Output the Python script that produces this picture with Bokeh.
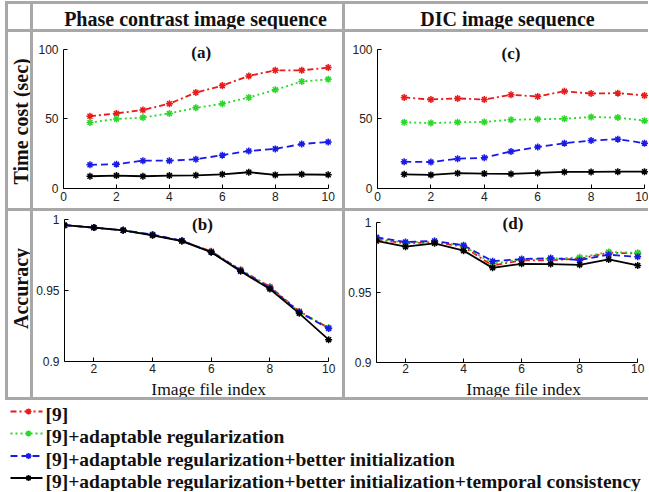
import math
from bokeh.plotting import figure
from bokeh.models import Range1d, Label, FixedTicker, CustomJSTickFormatter, Div
from bokeh.layouts import row, column
from bokeh.embed import file_html
from bokeh.resources import INLINE

# ---------------- data ----------------
index = [1, 2, 3, 4, 5, 6, 7, 8, 9, 10]
series_names = [
    "[9]",
    "[9]+adaptable regularization",
    "[9]+adaptable regularization+better initialization",
    "[9]+adaptable regularization+better initialization+temporal consistency",
]
col_titles = ["Phase contrast image sequence", "DIC image sequence"]
row_titles = ["Time cost (sec)", "Accuracy"]
panel_tags = ["(a)", "(b)", "(c)", "(d)"]
x_label = "Image file index"

time_ticks_x = [0, 2, 4, 6, 8, 10]
time_ticks_y = [0, 50, 100]
acc_ticks_x = [2, 4, 6, 8, 10]
acc_ticks_y = [0.9, 0.95, 1.0]

phase_time_r9 = [52, 54, 56.5, 61, 69, 74, 81, 85, 85, 87]
phase_time_ar = [47.5, 50, 51, 54, 58, 61, 65.5, 71, 77, 78.5]
phase_time_bi = [17, 17.5, 20, 20, 21, 24, 27, 28.5, 32, 33.5]
phase_time_tc = [8.8, 9.3, 8.8, 9.3, 9.5, 10.2, 11.7, 9.8, 10.2, 9.9]

dic_time_r9 = [65.5, 64, 64.8, 64, 67.4, 66.2, 70, 68.3, 68.6, 66.9]
dic_time_ar = [47.6, 47.1, 47.6, 47.9, 49.5, 49.8, 50.2, 51.4, 51.0, 48.8]
dic_time_bi = [19.3, 19.0, 21.4, 22.1, 26.7, 29.8, 32.6, 34.5, 35.5, 32.6]
dic_time_tc = [10.2, 9.8, 11.0, 10.7, 10.5, 11.2, 11.9, 11.9, 12.1, 12.1]

phase_acc_r9 = [0.996, 0.9943, 0.9924, 0.9890, 0.9850, 0.9776, 0.9646, 0.9526, 0.9353, 0.9236]
phase_acc_ar = [0.996, 0.9943, 0.9924, 0.9891, 0.9850, 0.9773, 0.9643, 0.9521, 0.9350, 0.9237]
phase_acc_bi = [0.996, 0.9943, 0.9924, 0.9895, 0.9850, 0.9771, 0.9641, 0.9518, 0.9348, 0.9232]
phase_acc_tc = [0.996, 0.9943, 0.9924, 0.9889, 0.9848, 0.9770, 0.9635, 0.9510, 0.9339, 0.9154]

dic_acc_r9 = [0.9880, 0.9851, 0.9860, 0.9827, 0.9693, 0.9729, 0.9731, 0.9741, 0.9784, 0.9779]
dic_acc_ar = [0.9885, 0.9856, 0.9866, 0.9832, 0.9707, 0.9736, 0.9741, 0.9751, 0.9789, 0.9784]
dic_acc_bi = [0.9894, 0.9861, 0.9868, 0.9837, 0.9724, 0.9739, 0.9746, 0.9731, 0.9770, 0.9755]
dic_acc_tc = [0.9868, 0.9827, 0.9851, 0.9799, 0.9676, 0.9705, 0.9703, 0.9698, 0.9736, 0.9693]

# ---------------- styles ----------------
COLORS = ["#e81a1a", "#2ad82a", "#1a1ae8", "#000000"]
DASHES = ["6 3 2 3", "2 3", "7 4", "solid"]
GRID = "#a8a8a8"
SERIF = "Liberation Serif"
SANS = "Liberation Sans"
TXT = "#111111"


def vline(h):
    return Div(text="", width=3, height=h, margin=0, styles={"background-color": GRID})


def hline(w):
    return Div(text="", width=w, height=3, margin=0, styles={"background-color": GRID})


def blank(w, h):
    f = figure(width=w, height=h, x_range=Range1d(0, w), y_range=Range1d(h, 0),
               output_backend="svg", toolbar_location=None, title_location=None,
               min_border=0, x_axis_type=None, y_axis_type=None)
    f.xgrid.visible = False
    f.ygrid.visible = False
    f.outline_line_color = None
    f.background_fill_color = "white"
    f.border_fill_color = "white"
    return f


def panel(w, h, xr, yr, xb, yb, mb, xticks, yticks, series, tag, tag_xy, xstand=3):
    p = figure(width=w, height=h, x_range=Range1d(*xr), y_range=Range1d(*yr),
               output_backend="svg", toolbar_location=None, title_location=None,
               min_border_left=mb[0], min_border_right=mb[1],
               min_border_top=mb[2], min_border_bottom=mb[3])
    p.xgrid.visible = False
    p.ygrid.visible = False
    p.outline_line_color = None
    p.background_fill_color = "white"
    p.border_fill_color = "white"
    for ax, ticks, bnd in ((p.xaxis[0], xticks, xb), (p.yaxis[0], yticks, yb)):
        ax.ticker = FixedTicker(ticks=ticks)
        ax.bounds = bnd
        ax.axis_line_color = "black"
        ax.axis_line_width = 1
        ax.major_tick_in = 4
        ax.major_tick_out = 0
        ax.major_tick_line_color = "black"
        ax.minor_tick_line_color = None
        ax.major_label_text_font = SANS
        ax.major_label_text_font_size = "12px"
        ax.major_label_text_color = "#222222"
    p.xaxis.major_label_standoff = xstand
    p.yaxis.major_label_standoff = 5
    p.yaxis.formatter = CustomJSTickFormatter(code="return String(Math.round(tick*100)/100);")
    for vals, c, d in zip(series, COLORS, DASHES):
        p.line(index, vals, line_color=c, line_dash=d, line_width=1.8)
        p.scatter(index, vals, marker="asterisk", size=7, line_color=c, line_width=1.5)
    p.add_layout(Label(x=tag_xy[0], y=tag_xy[1], text=tag, text_align="center",
                       text_baseline="middle", text_font=SERIF, text_font_style="bold",
                       text_font_size="17px", text_color=TXT))
    return p


def xlabel_fig(w, h, cx):
    f = blank(w, h)
    f.add_layout(Label(x=cx, y=11, text=x_label, text_align="center", text_baseline="middle",
                       text_font=SERIF, text_font_style="normal", text_font_size="17.5px",
                       text_color=TXT))
    return f


W0, W1, W2 = 22, 309, 303
H0, H1, H2, H3 = 25, 176, 186, 91
HL = 20                     # height of the x-label strip in the accuracy row
COL_W = 3 + W0 + 3 + W1 + 3 + W2
TOTAL_H = 1 + 3 + H0 + 3 + H1 + 3 + H2 + 3 + H3

# header row
h_blank = blank(W0, H0)
h1 = blank(W1, H0)
h1.add_layout(Label(x=162, y=14, text=col_titles[0], text_align="center", text_baseline="middle",
                    text_font=SERIF, text_font_style="bold", text_font_size="20px", text_color=TXT))
h2 = blank(W2, H0)
h2.add_layout(Label(x=162, y=14, text=col_titles[1], text_align="center", text_baseline="middle",
                    text_font=SERIF, text_font_style="bold", text_font_size="20px", text_color=TXT))

# row labels
r1 = blank(W0, H1)
r1.add_layout(Label(x=12, y=94.5, text=row_titles[0], angle=math.pi / 2, text_align="center",
                    text_baseline="middle", text_font=SERIF, text_font_style="bold",
                    text_font_size="20px", text_color=TXT))
r2 = blank(W0, H2)
r2.add_layout(Label(x=12, y=77, text=row_titles[1], angle=math.pi / 2, text_align="center",
                    text_baseline="middle", text_font=SERIF, text_font_style="bold",
                    text_font_size="20px", text_color=TXT))

pa = panel(W1, H1, (0, 10.2), (0, 104.3), (0, 10), (0, 100), (30, 9, 11, 19),
           time_ticks_x, time_ticks_y,
           [phase_time_r9, phase_time_ar, phase_time_bi, phase_time_tc], panel_tags[0], (5.2, 97.9))
pc = panel(W2, H1, (0, 10.15), (0, 104.3), (0, 10), (0, 100), (32, 0, 10, 20),
           time_ticks_x, time_ticks_y,
           [dic_time_r9, dic_time_ar, dic_time_bi, dic_time_tc], panel_tags[2], (5.0, 97.1))
pb = panel(W1, H2 - HL, (1, 10.2), (0.9, 1.00423), (1, 10), (0.9, 1.0), (29, 8, 2, 16),
           acc_ticks_x, acc_ticks_y,
           [phase_acc_r9, phase_acc_ar, phase_acc_bi, phase_acc_tc], panel_tags[1], (5.7, 0.99648),
           xstand=2)
pd_ = panel(W2, H2 - HL, (1, 10.2), (0.9, 1.00643), (1, 10), (0.9, 1.0), (31, 5, 2, 15),
            acc_ticks_x, acc_ticks_y,
            [dic_acc_r9, dic_acc_ar, dic_acc_bi, dic_acc_tc], panel_tags[3], (5.7, 0.99929),
            xstand=1)
lab_b = xlabel_fig(W1, HL, 165)
lab_d = xlabel_fig(W2, HL, 167)

# legend (below the table)
lg = blank(COL_W, H3)
rows_y = [14, 36, 58.5, 80.5]
for name, c, d, yy in zip(series_names, COLORS, DASHES, rows_y):
    ly = yy - 3
    lg.line([5, 37], [ly, ly], line_color=c, line_dash=d, line_width=1.8)
    lg.scatter([23], [ly], marker="asterisk", size=6, line_color=c, line_width=1.5)
    lg.add_layout(Label(x=40, y=yy, text=name, text_align="left", text_baseline="middle",
                        text_font=SERIF, text_font_style="bold", text_font_size="19.5px",
                        text_color=TXT))

table = column(
    Div(text="", width=COL_W, height=1, margin=0),
    hline(COL_W),
    row(vline(H0), h_blank, vline(H0), h1, vline(H0), h2),
    hline(COL_W),
    row(vline(H1), r1, vline(H1), pa, vline(H1), pc),
    hline(COL_W),
    row(vline(H2), r2, vline(H2), column(pb, lab_b), vline(H2), column(pd_, lab_d)),
    hline(COL_W),
    lg,
)
layout = row(Div(text="", width=5, height=TOTAL_H, margin=0), table)

open("out.html", "w").write(file_html(layout, INLINE))
